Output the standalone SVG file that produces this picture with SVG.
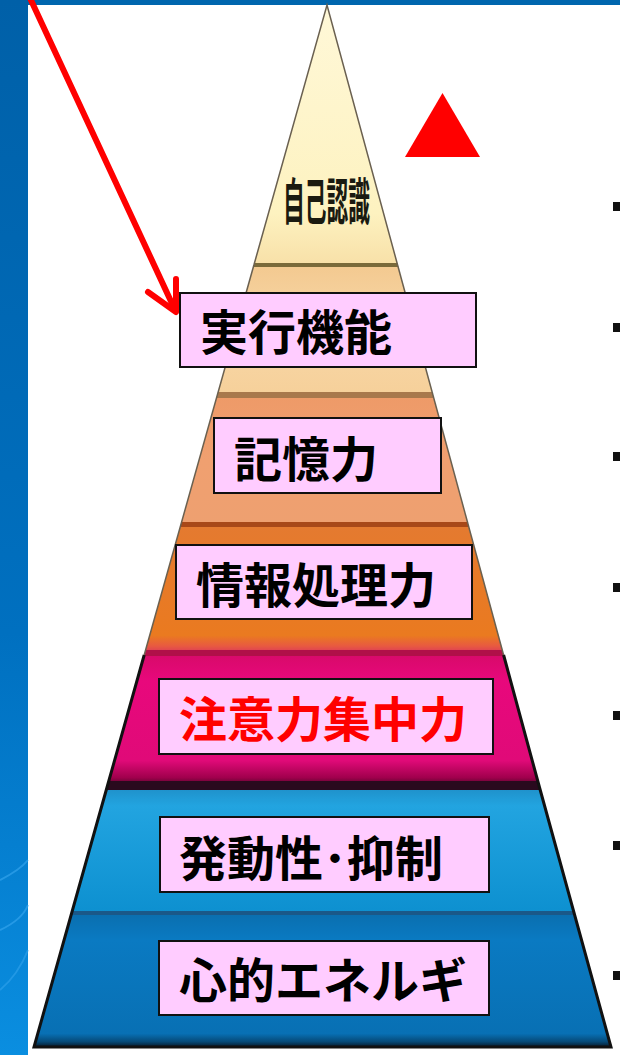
<svg xmlns="http://www.w3.org/2000/svg" width="620" height="1055" viewBox="0 0 620 1055">
<defs>
<linearGradient id="gBar" x1="0" y1="0" x2="0" y2="1"><stop offset="0" stop-color="#0060a8"/><stop offset="0.6" stop-color="#0070c0"/><stop offset="1" stop-color="#0a8ee0"/></linearGradient>
<linearGradient id="gY" x1="0" y1="0" x2="0" y2="1"><stop offset="0" stop-color="#fff8d8"/><stop offset="0.8" stop-color="#fdf2c0"/><stop offset="1" stop-color="#f8e0a8"/></linearGradient>
<linearGradient id="gLO" x1="0" y1="0" x2="0" y2="1"><stop offset="0" stop-color="#f3c990"/><stop offset="0.5" stop-color="#f8d8a8"/><stop offset="1" stop-color="#f6d09a"/></linearGradient>
<linearGradient id="gS" x1="0" y1="0" x2="0" y2="1"><stop offset="0" stop-color="#ee9a68"/><stop offset="0.5" stop-color="#f0a070"/><stop offset="1" stop-color="#eea070"/></linearGradient>
<linearGradient id="gO" x1="0" y1="0" x2="0" y2="1"><stop offset="0" stop-color="#e47a30"/><stop offset="0.85" stop-color="#ea7a20"/><stop offset="0.93" stop-color="#e85a40"/><stop offset="1" stop-color="#d83060"/></linearGradient>
<linearGradient id="gM" x1="0" y1="0" x2="0" y2="1"><stop offset="0" stop-color="#d80a6a"/><stop offset="0.2" stop-color="#e8087c"/><stop offset="0.8" stop-color="#e00a78"/><stop offset="0.93" stop-color="#a0004c"/><stop offset="1" stop-color="#3a0a22"/></linearGradient>
<linearGradient id="gB1" x1="0" y1="0" x2="0" y2="1"><stop offset="0" stop-color="#1f8fc8"/><stop offset="0.15" stop-color="#22a4e0"/><stop offset="1" stop-color="#0d90d0"/></linearGradient>
<linearGradient id="gB2" x1="0" y1="0" x2="0" y2="1"><stop offset="0" stop-color="#0a6eae"/><stop offset="0.2" stop-color="#0a7ac2"/><stop offset="0.9" stop-color="#0870b4"/><stop offset="0.96" stop-color="#064a78"/><stop offset="1" stop-color="#071a2a"/></linearGradient>
<style>
.box{fill:#ffccff;stroke:#111;stroke-width:2}
.lbl{font-family:"Noto Sans CJK JP","Noto Sans CJK SC",sans-serif;font-weight:bold;font-size:48px;fill:#000}
.edge{fill:none;stroke:#6a6050;stroke-width:1.5}
</style>
</defs>
<rect x="0" y="0" width="620" height="1055" fill="#ffffff"/>
<g id="frame">
<rect x="0" y="0" width="28" height="1055" fill="url(#gBar)"/>
<rect x="28" y="0" width="592" height="5" fill="#0066ae"/>
<path d="M0 880 Q20 870 28 860" fill="none" stroke="#3aa8f0" stroke-width="2" opacity="0.6"/>
<path d="M0 930 Q22 920 28 905" fill="none" stroke="#3aa8f0" stroke-width="2" opacity="0.6"/>
<path d="M0 990 Q18 975 28 950" fill="none" stroke="#3aa8f0" stroke-width="2" opacity="0.5"/>
</g>
<g id="pyramid">
<g id="layer-self"><polygon points="327,5 397.6,265 253.9,265" fill="url(#gY)"/></g>
<g id="layer-exec"><polygon points="253.9,265 397.6,265 432.9,395 217.3,395" fill="url(#gLO)"/></g>
<g id="layer-memory"><polygon points="217.3,395 432.9,395 468.2,525 180.8,525" fill="url(#gS)"/></g>
<g id="layer-info"><polygon points="180.8,525 468.2,525 503.6,655 144.2,655" fill="url(#gO)"/></g>
<g id="layer-attention"><polygon points="144.2,655 503.6,655 539.4,787 107.1,787" fill="url(#gM)"/></g>
<g id="layer-drive"><polygon points="107.1,787 539.4,787 573.6,913 71.7,913" fill="url(#gB1)"/></g>
<g id="layer-energy"><polygon points="71.7,913 573.6,913 611,1047 34,1047" fill="url(#gB2)"/></g>
<g id="bands">
<polygon points="254.5,263 397,263 398.2,267 253.3,267" fill="#7a6a3a"/>
<polygon points="218,392 432,392 433.5,398 216.5,398" fill="#a8784c"/>
<polygon points="181.5,522 467.5,522 468.8,527 180.3,527" fill="#a84818"/>
<polygon points="146,650 502,650 503.6,656 144.2,656" fill="#b01048"/>
<polygon points="109,781 537.5,781 539.4,790 106.3,790" fill="#2a0a1e"/>
<polygon points="72.5,911 573,911 574,915 71.2,915" fill="#1a5888"/>
</g>
<polyline class="edge" points="253.9,265 327,5 397.6,265"/>
<polyline class="edge" points="144.2,655 253.9,265"/>
<polyline class="edge" points="397.6,265 503.6,655"/>
<polyline points="144.2,655 107.1,787 34,1047 611,1047 539.4,787 503.6,655" fill="none" stroke="#111" stroke-width="3"/>
<text x="283" y="220" font-family="Noto Sans CJK JP, sans-serif" font-weight="bold" font-size="50" fill="#1a1a10" textLength="87" lengthAdjust="spacingAndGlyphs">自己認識</text>
</g>
<g id="node-exec"><rect class="box" x="180" y="293" width="296" height="74"/><text class="lbl" x="200" y="350">実行機能</text></g>
<g id="node-memory"><rect class="box" x="214" y="418" width="227" height="75"/><text class="lbl" x="234" y="477">記憶力</text></g>
<g id="node-info"><rect class="box" x="176" y="545" width="296" height="74"/><text class="lbl" x="196" y="603">情報処理力</text></g>
<g id="node-attention"><rect class="box" x="159" y="679" width="334" height="75"/><text class="lbl" x="179" y="737" style="fill:#ff0000">注意力集中力</text></g>
<g id="node-drive"><rect class="box" x="160" y="817" width="329" height="75"/><text class="lbl" x="179" y="876">発動性･抑制</text></g>
<g id="node-energy"><rect class="box" x="159" y="941" width="330" height="74"/><text class="lbl" x="179" y="998">心的エネルギ</text></g>
<g id="marker-triangle"><polygon points="405,157 480,157 442.5,93" fill="#ff0000"/></g>
<g id="bullets" fill="#111">
<rect x="613" y="202" width="7" height="9"/>
<rect x="613" y="323" width="7" height="9"/>
<rect x="613" y="452" width="7" height="9"/>
<rect x="613" y="583" width="7" height="9"/>
<rect x="613" y="711" width="7" height="9"/>
<rect x="613" y="841" width="7" height="9"/>
<rect x="613" y="971" width="7" height="9"/>
</g>
<g id="connectors" fill="none" stroke="#ff0000" stroke-width="6" stroke-linecap="round" stroke-linejoin="round">
<line x1="30" y1="-2" x2="175" y2="310"/>
<polyline points="148,292 176,312 176,279"/>
</g>
</svg>
